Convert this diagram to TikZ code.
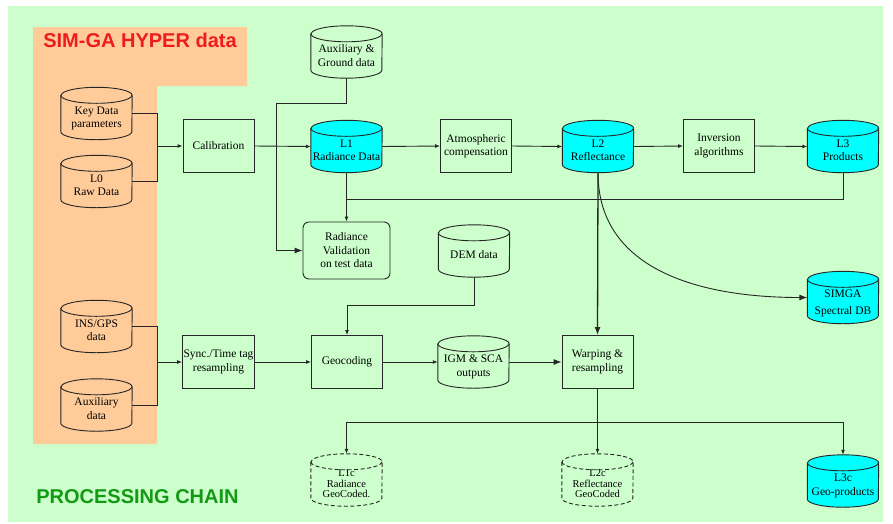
\documentclass[tikz,border=0pt]{standalone}
\usepackage{fontspec}
\setmainfont{Liberation Serif}
\newfontfamily\titlefont{Liberation Sans}
\usetikzlibrary{arrows.meta}
\definecolor{bggreen}{HTML}{CCFFCC}
\definecolor{peach}{HTML}{FFCC99}
\definecolor{dbcyan}{HTML}{00FFFF}
\definecolor{linec}{HTML}{262626}
\definecolor{titlered}{HTML}{EE1C1C}
\definecolor{titlegreen}{HTML}{139A13}
\newcommand{\nodefont}{\fontsize{11.5}{13.5}\selectfont}
\newcommand{\smallnodefont}{\fontsize{10.5}{10.5}\selectfont}
% text lowered inside a cylinder (below the top cap)
\newcommand{\ctext}[1]{\raisebox{-5pt}[\height][\depth]{\begin{tabular}{@{}c@{}}#1\end{tabular}}}
% outline of a cylinder inside a node box
\newcommand{\cylbody}[1]{([yshift=-8pt]#1.north west) -- ([yshift=8pt]#1.south west)
  arc[start angle=180, end angle=360, x radius=35.5pt, y radius=8pt]
  -- ([yshift=-8pt]#1.north east)
  arc[start angle=0, end angle=180, x radius=35.5pt, y radius=8pt] -- cycle}
\newcommand{\cylrim}[1]{([yshift=-8pt]#1.north west)
  arc[start angle=180, end angle=360, x radius=35.5pt, y radius=8pt]}
\newcommand{\drawcyl}[2]{%
  \path[cylline, #2] \cylbody{#1};
  \path[cylline, #2, fill=none] \cylrim{#1};}
\tikzset{
  titletext/.style={font=\titlefont\bfseries\fontsize{20}{24}\selectfont, inner sep=0pt},
  box/.style={draw=linec, line width=0.9pt, fill=bggreen, minimum width=71pt, minimum height=53pt, inner sep=1pt, align=center, font=\nodefont},
  rbox/.style={box, rounded corners=6pt, minimum width=87pt, minimum height=57pt},
  cylbox/.style={rectangle, minimum width=71pt, minimum height=52pt, inner sep=0pt, font=\nodefont},
  cylline/.style={draw=linec, line width=0.9pt},
  cdash/.style={dash pattern=on 4pt off 2.5pt},
  conn/.style={draw=linec, line width=0.9pt},
  arr/.style={conn, -{Latex[length=5pt,width=4pt]}},
  arrb/.style={conn, -{Latex[length=8pt,width=6pt]}}
}
\begin{document}
\begin{tikzpicture}[x=1pt,y=-1pt]
\useasboundingbox (0,0) rectangle (893,523);
\fill[white] (0,0) rectangle (893,523);
\fill[bggreen] (8,6) rectangle (883,522);
\fill[peach] (33,27) -- (247,27) -- (247,86) -- (157,86) -- (157,444) -- (33,444) -- cycle;

\node[titletext, text=titlered] (t1) at (140,40) {SIM-GA HYPER data};
\node[titletext, text=titlegreen] (t2) at (137.5,497) {PROCESSING CHAIN};

% cylinder node boxes (outlines drawn below, text on top)
\node[cylbox] (kd) at (96.5,113.5) {};
\node[cylbox] (l0) at (96.5,181.5) {};
\node[cylbox] (aux) at (346.5,52) {};
\node[cylbox] (l1) at (346.5,146.5) {};
\node[cylbox] (l2) at (598,146.5) {};
\node[cylbox] (l3) at (843,146.5) {};
\node[cylbox] (dem) at (474,251) {};
\node[cylbox] (simga) at (843,297.5) {};
\node[cylbox] (ins) at (96.5,326.5) {};
\node[cylbox] (auxd) at (96.5,405) {};
\node[cylbox] (igm) at (473.5,362) {};
\node[cylbox] (l1c) at (346.5,480) {};
\node[cylbox] (l2c) at (597.5,480) {};
\node[cylbox] (l3c) at (843,481) {};

\drawcyl{kd}{}
\drawcyl{l0}{}
\drawcyl{aux}{}
\drawcyl{l1}{fill=dbcyan}
\drawcyl{l2}{fill=dbcyan}
\drawcyl{l3}{fill=dbcyan}
\drawcyl{dem}{}
\drawcyl{simga}{fill=dbcyan}
\drawcyl{ins}{}
\drawcyl{auxd}{}
\drawcyl{igm}{}
\drawcyl{l1c}{cdash}
\drawcyl{l2c}{cdash}
\drawcyl{l3c}{fill=dbcyan}

% cylinder texts
\node[font=\nodefont, inner sep=0pt] at (kd.center) {\ctext{Key Data\\parameters}};
\node[font=\nodefont, inner sep=0pt] at (l0.center) {\ctext{L0\\Raw Data}};
\node[font=\nodefont, inner sep=0pt] at (aux.center) {\ctext{Auxiliary \&\\Ground data}};
\node[font=\nodefont, inner sep=0pt] at (l1.center) {\ctext{L1\\Radiance Data}};
\node[font=\nodefont, inner sep=0pt] at (l2.center) {\ctext{L2\\Reflectance}};
\node[font=\nodefont, inner sep=0pt] at (l3.center) {\ctext{L3\\Products}};
\node[font=\nodefont, inner sep=0pt] at (dem.center) {\ctext{DEM data}};
\node[font=\fontsize{11.5}{17}\selectfont, inner sep=0pt] at (simga.center) {\ctext{SIMGA\\Spectral DB}};
\node[font=\nodefont, inner sep=0pt] at (ins.center) {\ctext{INS/GPS\\data}};
\node[font=\nodefont, inner sep=0pt] at (auxd.center) {\ctext{Auxiliary\\data}};
\node[font=\nodefont, inner sep=0pt] at (igm.center) {\ctext{IGM \& SCA\\outputs}};
\node[font=\smallnodefont, inner sep=0pt] at (l1c.center) {\ctext{L1c\\Radiance\\GeoCoded.}};
\node[font=\smallnodefont, inner sep=0pt] at (l2c.center) {\ctext{L2c\\Reflectance\\GeoCoded}};
\node[font=\nodefont, inner sep=0pt] at (l3c.center) {\ctext{L3c\\Geo-products}};

% boxes
\node[box] (cal) at (218.5,146) {Calibration};
\node[box] (atm) at (476,146) {Atmospheric\\compensation};
\node[box] (inv) at (719,146) {Inversion\\algorithms};
\node[rbox] (rv) at (346.5,250.5) {Radiance\\Validation\\on test data};
\node[box] (sync) at (218.5,362) {Sync./Time tag\\resampling};
\node[box] (geo) at (347,362) {Geocoding};
\node[box] (warp) at (597.5,362) {Warping \&\\resampling};

% junctions
\coordinate (j1) at (157,146);
\coordinate (j2) at (276,103);
\coordinate (j3) at (346.5,199);
\coordinate (j4) at (347,305);
\coordinate (j5) at (157,362);
\coordinate (j6) at (597.5,422);
\coordinate (j7) at (346.5,422);

% connectors
\draw[conn] (kd.east) -| (j1);
\draw[conn] (l0.east) -| (j1);
\draw[arr] (j1) -- (cal.west);
\draw[arr] (cal.east) -- (l1.west);
\draw[arrb] (aux.south) |- (j2) |- (rv.west);
\draw[arr] (l1.south) -- (rv.north);
\draw[conn] (l3.south) |- (j3);
\draw[arr] (l1.east) -- (atm.west);
\draw[arr] (atm.east) -- (l2.west);
\draw[arr] (l2.east) -- (inv.west);
\draw[arr] (inv.east) -- (l3.west);
\draw[arrb, line width=1.3pt] (l2.south) -- (warp.north);
\draw[arrb] (l2.south) .. controls (598,270) and (700,297.5) .. (simga.west);
\draw[arr] (dem.south) |- (j4) -- (geo.north);
\draw[conn] (ins.east) -| (j5);
\draw[conn] (auxd.east) -| (j5);
\draw[arr] (j5) -- (sync.west);
\draw[arr] (sync.east) -- (geo.west);
\draw[arr] (geo.east) -- (igm.west);
\draw[arrb] (igm.east) -- (warp.west);
\draw[conn] (warp.south) -- (j6);
\draw[arr] (j6) -- (l2c.north);
\draw[arr] (j6) -| (l3c.north);
\draw[arr] (j6) -- (j7) -- (l1c.north);
\end{tikzpicture}
\end{document}
